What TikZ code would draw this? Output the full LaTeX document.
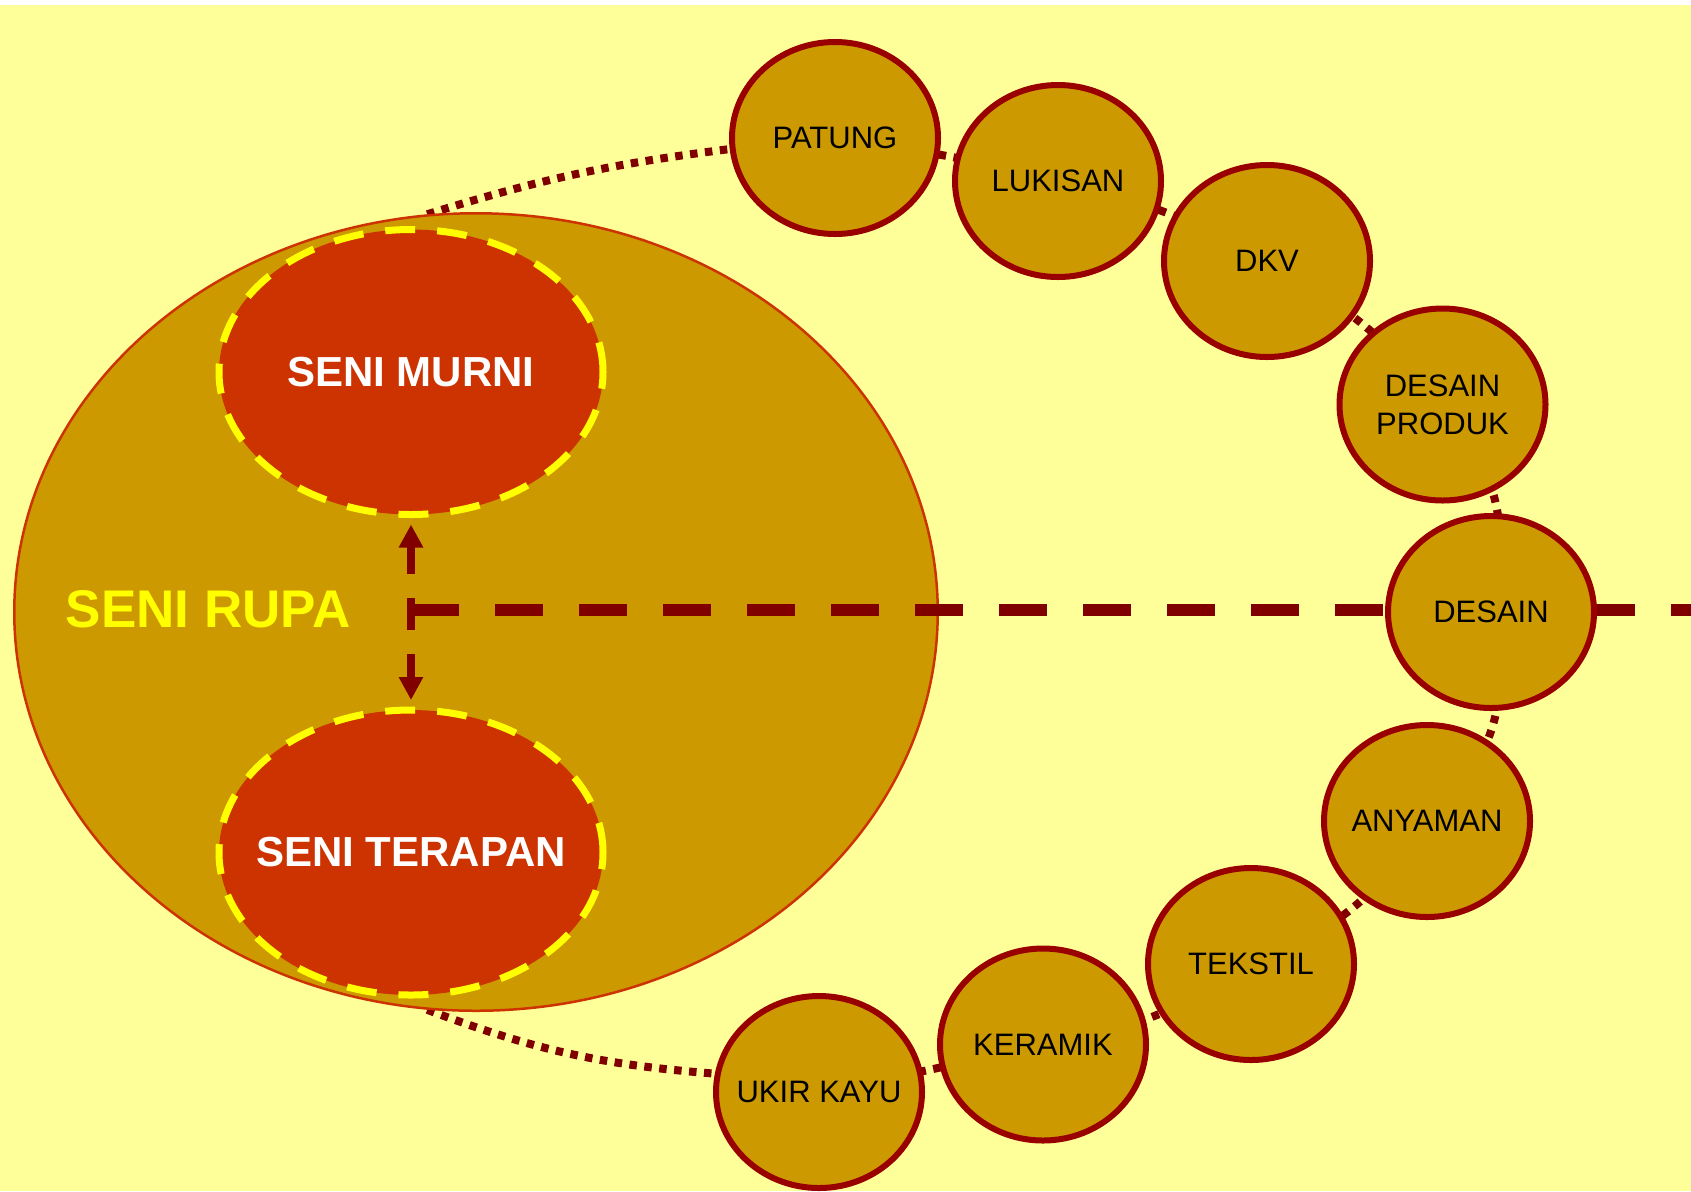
\documentclass[tikz,border=0pt]{standalone}
\usepackage{fontspec}
\setmainfont{Liberation Sans}
\usetikzlibrary{shapes.geometric,arrows.meta}
\pgfdeclarelayer{bgl}
\pgfdeclarelayer{conl}
\pgfsetlayers{bgl,conl,main}
\definecolor{paper}{HTML}{FFFF99}
\definecolor{gold}{HTML}{CC9900}
\definecolor{rust}{HTML}{CC3300}
\definecolor{ring}{HTML}{990000}
\definecolor{maroon}{HTML}{800000}
\definecolor{brightyellow}{HTML}{FFFF00}
\begin{document}
\begin{tikzpicture}[x=0.5pt,y=0.5pt,
  bigoval/.style={ellipse, draw=rust, line width=1.25pt, fill=gold,
    minimum width=461.75pt, minimum height=398.75pt, inner sep=0pt},
  kindoval/.style={ellipse, draw=brightyellow, line width=3.5pt,
    dash pattern=on 15pt off 11pt, fill=rust, minimum width=192pt,
    minimum height=142.5pt, inner ysep=0pt, inner xsep=-45pt, text=white,
    font=\fontsize{21}{25}\selectfont\bfseries},
  branch/.style={ellipse, draw=ring, line width=3pt, fill=gold,
    minimum width=103pt, minimum height=96pt, inner ysep=0pt, inner xsep=-14pt,
    align=center, font=\fontsize{15.5}{19}\selectfont},
  dotlink/.style={draw=maroon, line width=4pt, dash pattern=on 3.75pt off 3.75pt},
  updown/.style={draw=maroon, line width=4pt, dash pattern=on 16pt off 12pt,
    dash phase=2pt, shorten <=3.25pt, shorten >=3.25pt,
    {Triangle[length=11.5pt,width=11.5pt]}-{Triangle[length=11.5pt,width=11.5pt]}},
  maindash/.style={draw=maroon, line width=6.3pt, dash pattern=on 24pt off 18pt},
  rupatext/.style={text=brightyellow, font=\fontsize{26.5}{32}\selectfont\bfseries, inner sep=0pt}
]
\useasboundingbox (0,0) rectangle (1691,-1191);
\begin{pgfonlayer}{bgl}
  \fill[paper] (0,-5) rectangle (1691,-1191);
  \fill[white] (0,0) rectangle (1691,-5);
\end{pgfonlayer}

\node[bigoval] (rupa) at (476,-612) {};
\node[rupatext] (rupalabel) at (208,-609) {SENI RUPA};
\node[kindoval] (murni) at (411,-372) {SENI MURNI};
\node[kindoval] (terapan) at (411,-852.5) {SENI TERAPAN};

\draw[updown] (murni.south) -- (terapan.north);
\coordinate (junc) at (411,-610);
\coordinate (redge) at (1691,-610);
\draw[maindash] (junc) -- (redge);

\node[branch] (patung) at (835,-138) {PATUNG};
\node[branch] (lukisan) at (1058,-181) {LUKISAN};
\node[branch] (dkv) at (1267,-261) {DKV};
\node[branch] (produk) at (1442.5,-404.5) {DESAIN\\PRODUK};
\node[branch] (desain) at (1491,-612) {DESAIN};
\node[branch] (anyaman) at (1427,-821) {ANYAMAN};
\node[branch] (tekstil) at (1251,-964) {TEKSTIL};
\node[branch] (keramik) at (1043,-1044.5) {KERAMIK};
\node[branch] (ukir) at (819,-1092) {UKIR KAYU};

\begin{pgfonlayer}{conl}
  \draw[dotlink] (rupa.97) to[bend left=5] (patung.186);
  \draw[dotlink] (patung.center) to[bend left=3] (lukisan.center);
  \draw[dotlink] (lukisan.center) to[bend left=8] (dkv.center);
  \draw[dotlink] (dkv.center) to[bend left=10] (produk.center);
  \draw[dotlink] (produk.center) to[bend left=28] (desain.center);
  \draw[dotlink] (desain.center) to[bend left=33] (anyaman.center);
  \draw[dotlink] (anyaman.center) to[bend left=18] (tekstil.center);
  \draw[dotlink] (tekstil.center) to[bend left=12] (keramik.center);
  \draw[dotlink] (keramik.center) to[bend left=1] (ukir.center);
  \draw[dotlink] (rupa.263.5) to[bend right=8] (ukir.170);
\end{pgfonlayer}
\end{tikzpicture}
\end{document}
